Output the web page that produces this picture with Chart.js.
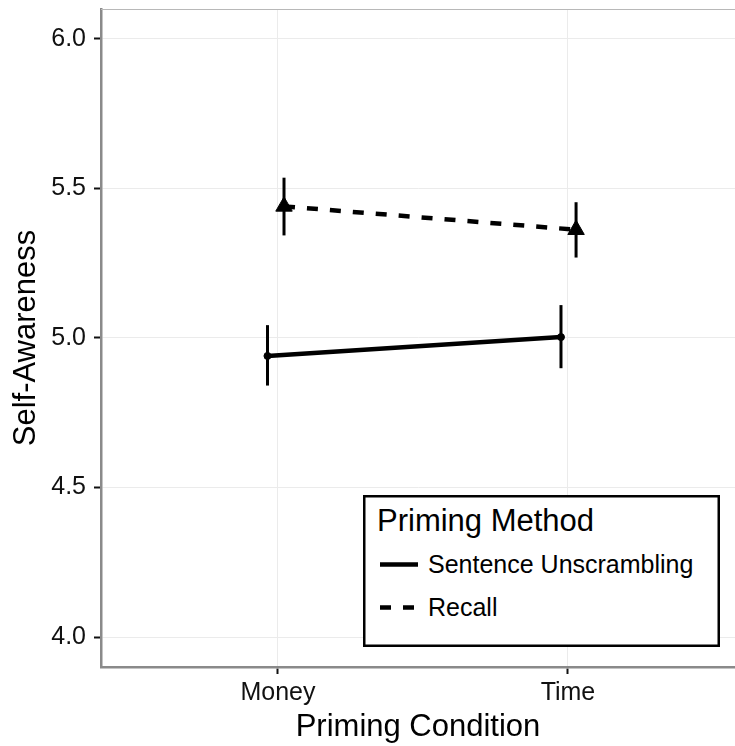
<!DOCTYPE html>
<html>
<head>
<meta charset="utf-8">
<script src="https://cdn.jsdelivr.net/npm/chart.js@4.4.1/dist/chart.umd.min.js"></script>
<style>
  html, body { margin: 0; padding: 0; background: #fff; }
  #wrap { position: relative; width: 735px; height: 746px; }
  canvas { display: block; }
  #legend {
    position: absolute; left: 363px; top: 495px; width: 357px; height: 152px;
    background: #fff; box-shadow: inset 0 0 0 2.5px #000;
    font-family: "Liberation Sans", Arial, sans-serif; color: #000;
  }
  #legend .ttl { position: absolute; left: 14px; top: 10px; font-size: 31px; line-height: 31px; white-space: nowrap; }
  #legend .item { position: absolute; left: 0; height: 25px; width: 100%; }
  #legend .item svg { position: absolute; left: 17px; top: 0; }
  #legend .item span { position: absolute; left: 65px; top: 0; font-size: 25px; line-height: 25px; white-space: nowrap; }
</style>
</head>
<body>
<div id="wrap">
  <canvas id="c" width="735" height="746"></canvas>
  <div id="legend"></div>
</div>
<script>
// Group means and interval bounds for each priming method, by condition
const categories = ['Money', 'Time'];
const yTickValues = [4.0, 4.5, 5.0, 5.5, 6.0];
const methods = ['Sentence Unscrambling', 'Recall'];

const unscramblingMean = [4.94, 5.003];
const unscramblingLow  = [4.841, 4.899];
const unscramblingHigh = [5.043, 5.110];

const recallMean = [5.44, 5.362];
const recallLow  = [5.343, 5.269];
const recallHigh = [5.536, 5.454];

// small horizontal jitter so the two methods' intervals don't overlap
const unscramblingJitter = [-0.036, -0.024];
const recallJitter = [0.021, 0.028];

const FONT = '"Liberation Sans", Arial, sans-serif';
const INK = '#000';

const series = [
  { name: methods[0], mean: unscramblingMean, low: unscramblingLow, high: unscramblingHigh,
    jitter: unscramblingJitter, dash: [], point: 'circle', radius: 3.5 },
  { name: methods[1], mean: recallMean, low: recallLow, high: recallHigh,
    jitter: recallJitter, dash: [11, 12], point: 'triangle', radius: 9.5 }
];

const datasets = [];
series.forEach(s => {
  datasets.push({
    type: 'scatter',
    label: s.name,
    data: categories.map((c, i) => ({ x: i + 1 + s.jitter[i], y: s.mean[i] })),
    showLine: true,
    borderColor: INK,
    backgroundColor: INK,
    borderWidth: 4.5,
    borderDash: s.dash,
    borderCapStyle: 'butt',
    pointStyle: s.point,
    pointRadius: s.radius,
    pointBackgroundColor: INK,
    pointBorderColor: INK,
    pointBorderWidth: 1,
    order: 1
  });
  categories.forEach((c, i) => {
    datasets.push({
      type: 'scatter',
      label: s.name + ' – ' + c,
      data: [
        { x: i + 1 + s.jitter[i], y: s.low[i] },
        { x: i + 1 + s.jitter[i], y: s.high[i] }
      ],
      showLine: true,
      borderColor: INK,
      borderWidth: 3,
      borderCapStyle: 'butt',
      pointRadius: 0,
      order: 2
    });
  });
});

// thin frame line along the top of the panel
const panelTop = {
  id: 'panelTop',
  beforeDatasetsDraw(chart) {
    const { ctx, chartArea } = chart;
    ctx.save();
    ctx.strokeStyle = '#b8b8b8';
    ctx.lineWidth = 1;
    ctx.beginPath();
    ctx.moveTo(chartArea.left, chartArea.top + 0.5);
    ctx.lineTo(chartArea.right, chartArea.top + 0.5);
    ctx.stroke();
    ctx.restore();
  }
};

new Chart(document.getElementById('c'), {
  type: 'scatter',
  data: { datasets },
  plugins: [panelTop],
  options: {
    responsive: false,
    animation: false,
    devicePixelRatio: 1,
    layout: { autoPadding: false, padding: { top: 9, right: 0, bottom: 0, left: 0 } },
    plugins: { legend: { display: false }, tooltip: { enabled: false } },
    scales: {
      x: {
        type: 'linear',
        min: 0.39,
        max: 2.576,
        afterBuildTicks: sc => { sc.ticks = categories.map((c, i) => ({ value: i + 1 })); },
        afterFit: sc => { sc.height = 79; sc.paddingLeft = 0; sc.paddingRight = 0; },
        ticks: {
          callback: v => categories[Math.round(v) - 1],
          font: { family: FONT, size: 25 },
          color: '#111',
          padding: 4,
          maxRotation: 0,
          autoSkip: false
        },
        grid: { color: '#ebebeb', lineWidth: 1, tickColor: '#111', tickLength: 7, tickWidth: 2 },
        border: { color: '#8a8a8a', width: 2.5 },
        title: {
          display: true, text: 'Priming Condition',
          font: { family: FONT, size: 31 }, color: INK,
          padding: { top: 0, bottom: 0 }
        }
      },
      y: {
        type: 'linear',
        min: 3.9,
        max: 6.1,
        afterBuildTicks: sc => { sc.ticks = yTickValues.map(v => ({ value: v })); },
        afterFit: sc => { sc.width = 101; sc.paddingTop = 0; sc.paddingBottom = 0; },
        ticks: {
          callback: v => Number(v).toFixed(1),
          font: { family: FONT, size: 25 },
          color: '#111',
          padding: 8
        },
        grid: { color: '#ebebeb', lineWidth: 1, tickColor: '#111', tickLength: 7, tickWidth: 2 },
        border: { color: '#8a8a8a', width: 2.5 },
        title: {
          display: true, text: 'Self-Awareness',
          font: { family: FONT, size: 31 }, color: INK,
          padding: { top: 8, bottom: 0 }
        }
      }
    }
  }
});

// legend box built from the same series definitions
const legend = document.getElementById('legend');
const ttl = document.createElement('div');
ttl.className = 'ttl';
ttl.textContent = 'Priming Method';
legend.appendChild(ttl);
series.forEach((s, k) => {
  const item = document.createElement('div');
  item.className = 'item';
  item.style.top = (57 + k * 43.2) + 'px';
  const dash = s.dash.length ? ' stroke-dasharray="' + s.dash.join(' ') + '"' : '';
  item.innerHTML =
    '<svg width="38" height="25"><line x1="0" y1="12.5" x2="38" y2="12.5" stroke="#000" stroke-width="4.5"' + dash + '/></svg>' +
    '<span></span>';
  item.querySelector('span').textContent = s.name;
  legend.appendChild(item);
});
</script>
</body>
</html>
